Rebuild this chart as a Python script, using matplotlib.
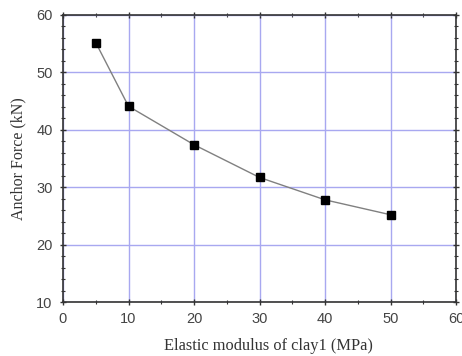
import numpy as np
import matplotlib
matplotlib.use('Agg')
import matplotlib.pyplot as plt
from matplotlib.ticker import MultipleLocator

# data
modulus = [5, 10, 20, 30, 40, 50]          # MPa
anchor_force = [55.2, 44.1, 37.4, 31.7, 27.8, 25.2]  # kN

fig = plt.figure(figsize=(4.62, 3.56), dpi=100)
ax = fig.add_axes([63/462, 1-302/356, (456-63)/462, (302-15)/356])

ax.plot(modulus, anchor_force, color='#808080', linewidth=1, zorder=3)
ax.plot(modulus, anchor_force, 's', color='black', markersize=5.5, zorder=4)

ax.set_xlim(0, 60)
ax.set_ylim(10, 60)
ax.xaxis.set_major_locator(MultipleLocator(10))
ax.xaxis.set_minor_locator(MultipleLocator(5))
ax.yaxis.set_major_locator(MultipleLocator(10))
ax.yaxis.set_minor_locator(MultipleLocator(2))

ax.grid(True, which='major', color='#a8a8f0', linewidth=1)
ax.set_axisbelow(True)

ax.tick_params(which='both', top=True, right=True, direction='in',
               labelsize=10.5, colors='#333333', labelcolor='#444444')
ax.tick_params(which='major', length=5, width=1)
ax.tick_params(which='minor', length=3, width=0.8)
ax.tick_params(axis='y', which='both', left=True, direction='inout')
ax.tick_params(axis='x', which='both', bottom=True, direction='inout')
ax.tick_params(which='major', pad=5)
for lab in ax.get_xticklabels() + ax.get_yticklabels():
    lab.set_family('Liberation Sans')
for s in ax.spines.values():
    s.set_color('#333333')
    s.set_linewidth(1.2)

ax.set_xlabel('Elastic modulus of clay1 (MPa)', family='Liberation Serif',
              fontsize=11.8, color='#333333', labelpad=8.5)
ax.xaxis.set_label_coords(0.524, -0.125)
ax.set_ylabel('Anchor Force (kN)', family='Liberation Serif',
              fontsize=11.5, color='#333333', labelpad=7)

fig.savefig('out.png', dpi=100)
